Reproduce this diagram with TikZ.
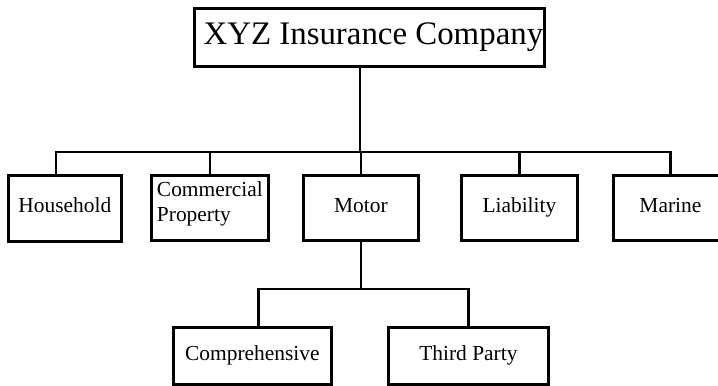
\documentclass[tikz,border=0pt]{standalone}
\usepackage{fontspec}
\setmainfont{Liberation Serif}
\begin{document}
\begin{tikzpicture}[x=1bp,y=-1bp,
  box/.style={draw,line width=2.8bp,rectangle,inner sep=0pt,anchor=north west,
    font=\fontsize{21.5}{25}\selectfont,align=center},
  oneline/.style={text height=14bp,text depth=5bp},
  link/.style={line width=2.8bp,line cap=rect}]
\useasboundingbox (0,0) rectangle (718,385);
\clip (0,0) rectangle (718,385);
% root
\node[box,minimum width=350bp,minimum height=58bp,font=\fontsize{33}{36}\selectfont,
  text height=22bp,text depth=7bp]
  (root) at (193,7) {\hspace*{8bp}XYZ Insurance Company};
% first level
\node[box,oneline,minimum width=113bp,minimum height=66bp] (house) at (7,174) {Household};
\node[box,minimum width=117bp,minimum height=65bp] (comm) at (150,174) {};
\node[font=\fontsize{21.5}{25}\selectfont,align=left,inner sep=0pt]
  (commtext) at ([yshift=4bp]comm.center) {Commercial\\Property};
\node[box,oneline,minimum width=115bp,minimum height=65bp] (motor) at (302,174) {Motor};
\node[box,oneline,minimum width=116bp,minimum height=65bp] (liab) at (460,174) {Liability};
\node[box,oneline,minimum width=114bp,minimum height=65bp] (marine) at (612,174) {Marine};
% second level
\node[box,oneline,minimum width=158bp,minimum height=57bp] (comp) at (172,326) {Comprehensive};
\node[box,oneline,minimum width=160bp,minimum height=57bp] (third) at (387,326) {Third Party};
% tree connectors
\coordinate (busA) at (360,152);
\coordinate (busB) at (358,289);
\draw[link] (busA |- root.south) -- (busA);
\draw[link] ([xshift=-9bp]house.north) |- (busA -| marine.north) -- (marine.north);
\draw[link] (comm.north) -- (comm.north |- busA);
\draw[link] (motor.north) -- (motor.north |- busA);
\draw[link] (liab.north) -- (liab.north |- busA);
\draw[link] (motor.south) -- (motor.south |- busB);
\draw[link] ([xshift=6bp]comp.north) |- (busB -| third.north) -- (third.north);
\end{tikzpicture}
\end{document}
